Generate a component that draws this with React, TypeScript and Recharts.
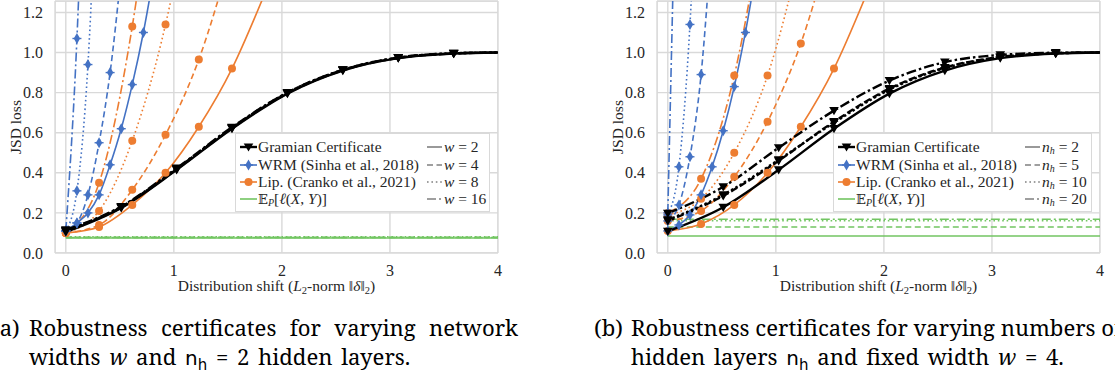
import React from 'react';
import { LineChart, Line, XAxis, YAxis, CartesianGrid, ReferenceArea, Label } from 'recharts';

// shift grid positions for each family of curves
const X_GRAM = [0, 0.513, 1.026, 1.538, 2.051, 2.564, 3.077, 3.59, 4];
const X_WRM = [0, 0.103, 0.205, 0.308, 0.41, 0.513, 0.615, 0.718, 0.821];
const X_LIP = [0, 0.308, 0.615, 0.923, 1.231, 1.538, 1.846];
const X_FLAT = [0, 4];

const X_TICKS = [0, 1, 2, 3, 4];
const Y_TICKS = [0, 0.2, 0.4, 0.6, 0.8, 1.0, 1.2];

// (a) varying width w, n_h = 2
const gramA_w2 = [0.105, 0.225, 0.415, 0.62, 0.795, 0.91, 0.972, 0.995, 1.0];
const gramA_w4 = [0.11, 0.228, 0.418, 0.623, 0.797, 0.912, 0.973, 0.995, 1.0];
const gramA_w8 = [0.112, 0.23, 0.42, 0.625, 0.8, 0.913, 0.974, 0.996, 1.0];
const gramA_w16 = [0.115, 0.232, 0.423, 0.627, 0.8, 0.914, 0.975, 0.996, 1.0];
const wrmA_w2 = [0.11, 0.15, 0.2, 0.29, 0.44, 0.62, 0.84, 1.1, 1.41];
const wrmA_w4 = [0.11, 0.15, 0.29, 0.55, 0.9, 1.4];
const wrmA_w8 = [0.11, 0.31, 0.94, 2.2];
const wrmA_w16 = [0.11, 1.07, 2.6];
const lipA_w2 = [0.1, 0.13, 0.24, 0.4, 0.63, 0.92, 1.3];
const lipA_w4 = [0.1, 0.14, 0.315, 0.59, 0.965, 1.5];
const lipA_w8 = [0.1, 0.21, 0.56, 1.14, 2.0];
const lipA_w16 = [0.1, 0.35, 1.13, 2.4];
const expA_w2 = [0.075, 0.075];
const expA_w4 = [0.078, 0.078];
const expA_w8 = [0.081, 0.081];
const expA_w16 = [0.077, 0.077];

// (b) varying depth n_h, w = 4
const gramB_n2 = [0.108, 0.228, 0.415, 0.62, 0.795, 0.91, 0.972, 0.995, 1.0];
const gramB_n5 = [0.16, 0.285, 0.46, 0.655, 0.82, 0.925, 0.978, 0.996, 1.0];
const gramB_n10 = [0.165, 0.29, 0.465, 0.65, 0.815, 0.922, 0.976, 0.996, 1.0];
const gramB_n20 = [0.198, 0.33, 0.525, 0.71, 0.86, 0.952, 0.988, 0.999, 1.0];
const wrmB_n2 = [0.11, 0.14, 0.19, 0.29, 0.43, 0.61, 0.83, 1.1, 1.42];
const wrmB_n5 = [0.16, 0.24, 0.48, 0.89, 1.6];
const wrmB_n10 = [0.19, 0.43, 1.14, 2.4];
const wrmB_n20 = [0.2, 2.6];
const lipB_n2 = [0.11, 0.145, 0.24, 0.4, 0.63, 0.92, 1.3];
const lipB_n5 = [0.16, 0.21, 0.38, 0.655, 1.045, 1.6];
const lipB_n10 = [0.19, 0.27, 0.5, 0.885, 1.5];
const lipB_n20 = [0.2, 0.37, 0.885, 1.8];
const expB_n2 = [0.085, 0.085];
const expB_n5 = [0.13, 0.13];
const expB_n10 = [0.161, 0.161];
const expB_n20 = [0.168, 0.168];

const PARAM_A = ['2', '4', '8', '16'];
const PARAM_B = ['2', '5', '10', '20'];

const BLACK = '#000000';
const BLUE = '#4472C4';
const ORANGE = '#ED7D31';
const GREEN = '#72C562';
const GRID = '#d9d9d9';
const TEXT = '#262626';
const SERIF = 'Liberation Serif';
const CAPTION_FONT = 'Noto Serif';

const Y_MAX = 1.257;
const X_MIN = -0.1;
const X_MAX = 4;

type Style = 'solid' | 'dashed' | 'dotted' | 'dashdot';
type Marker = 'tri' | 'diamond' | 'circle' | 'none';
const STYLES: Style[] = ['solid', 'dashed', 'dotted', 'dashdot'];

const thinDash: Record<Style, string | undefined> = {
  solid: undefined,
  dashed: '6 3.5',
  dotted: '1.6 2.8',
  dashdot: '9 3 2 3',
};
const thickDash: Record<Style, string | undefined> = {
  solid: undefined,
  dashed: '7 3',
  dotted: '2.5 2.5',
  dashdot: '10 3 2.5 3',
};

interface Series {
  key: string;
  xs: number[];
  ys: number[];
  color: string;
  style: Style;
  marker: Marker;
  width: number;
}

function family(prefix: string, xs: number[], sets: number[][], color: string, marker: Marker, width: number): Series[] {
  return sets.map((ys, i) => ({ key: `${prefix}${i}`, xs, ys, color, style: STYLES[i], marker, width }));
}

function buildRows(series: Series[]) {
  const map = new Map<number, Record<string, number>>();
  series.forEach((s) =>
    s.ys.forEach((y, i) => {
      const x = s.xs[i];
      if (!map.has(x)) map.set(x, { x });
      map.get(x)![s.key] = y;
    })
  );
  return Array.from(map.values()).sort((a, b) => a.x - b.x);
}

function drawMarker(kind: Marker, cx: number, cy: number, color: string, k: string) {
  if (kind === 'tri') {
    return <path key={k} d={`M${cx - 4.8},${cy - 3.6} L${cx + 4.8},${cy - 3.6} L${cx},${cy + 4.6} Z`} fill={color} />;
  }
  if (kind === 'diamond') {
    return (
      <g key={k}>
        <path d={`M${cx},${cy - 5.5} L${cx + 3.2},${cy} L${cx},${cy + 5.5} L${cx - 3.2},${cy} Z`} fill={color} />
        <line x1={cx - 4.5} y1={cy} x2={cx + 4.5} y2={cy} stroke={color} strokeWidth={1.4} />
      </g>
    );
  }
  if (kind === 'circle') {
    return <circle key={k} cx={cx} cy={cy} r={4} fill={color} />;
  }
  return <g key={k} />;
}

function makeDot(s: Series) {
  return (props: any) => {
    const { cx, cy, index, payload } = props;
    const k = `${s.key}-dot-${index}`;
    const v = payload ? payload[s.key] : undefined;
    if (s.marker === 'none' || v == null || cx == null || cy == null || v > Y_MAX || payload.x >= X_MAX) {
      return <g key={k} />;
    }
    return drawMarker(s.marker, cx, cy, s.color, k);
  };
}

function XTitle(props: any) {
  const vb = props.viewBox || { x: 0, y: 0, width: 0, height: 0 };
  const cx = vb.x + vb.width / 2;
  const y = vb.y + 38;
  return (
    <text x={cx} y={y} textAnchor="middle" fontFamily={SERIF} fontSize={15.5} fill={TEXT}>
      <tspan>Distribution shift (</tspan>
      <tspan fontStyle="italic">L</tspan>
      <tspan fontSize={10.5} dy={3}>2</tspan>
      <tspan dy={-3}>-norm  ‖</tspan>
      <tspan fontStyle="italic">δ</tspan>
      <tspan>‖</tspan>
      <tspan fontSize={10.5} dy={3}>2</tspan>
      <tspan dy={-3}>)</tspan>
    </text>
  );
}

function YTitle(props: any) {
  const vb = props.viewBox || { x: 0, y: 0, width: 0, height: 0 };
  const cy = vb.y + vb.height / 2;
  const x = vb.x + 15;
  return (
    <text
      x={x}
      y={cy}
      transform={`rotate(-90 ${x} ${cy})`}
      textAnchor="middle"
      dominantBaseline="central"
      fontFamily={SERIF}
      fontSize={15.5}
      fill={TEXT}
    >
      JSD loss
    </text>
  );
}

function LineSample({ color, dash, width, marker }: { color: string; dash?: string; width: number; marker: Marker }) {
  return (
    <svg width={17} height={12} style={{ display: 'block' }}>
      <line x1={0} y1={6} x2={17} y2={6} stroke={color} strokeWidth={width} strokeDasharray={dash} />
      {marker !== 'none' ? drawMarker(marker, 8.5, 6, color, 'm') : null}
    </svg>
  );
}

function ExpLabel() {
  return (
    <span>
      <span style={{ fontFamily: 'DejaVu Serif', fontSize: 13 }}>𝔼</span>
      <sub style={{ fontStyle: 'italic', fontSize: 10, verticalAlign: '-2px' }}>P</sub>
      [<span style={{ fontStyle: 'italic' }}>ℓ</span>(<i>X</i>, <i>Y</i>)]
    </span>
  );
}

interface LegendProps {
  left: number;
  width: number;
  col2: number;
  params: string[];
  paramName: 'w' | 'n';
}

function PanelLegend({ left, width, col2, params, paramName }: LegendProps) {
  const methods = [
    { label: <span>Gramian Certificate</span>, color: BLACK, marker: 'tri' as Marker, w: 2.4 },
    { label: <span>WRM (Sinha et al., 2018)</span>, color: BLUE, marker: 'diamond' as Marker, w: 1.6 },
    { label: <span>Lip. (Cranko et al., 2021)</span>, color: ORANGE, marker: 'circle' as Marker, w: 1.6 },
    { label: <ExpLabel />, color: GREEN, marker: 'none' as Marker, w: 1.6 },
  ];
  const rowTop = 4.5;
  const rowH = 17.4;
  return (
    <div
      style={{
        position: 'absolute',
        left,
        top: 133,
        width,
        height: 79,
        background: '#ffffff',
        border: '1px solid #d9d9d9',
        boxSizing: 'border-box',
        fontFamily: SERIF,
        fontSize: 15.5,
        color: TEXT,
      }}
    >
      {methods.map((m, i) => (
        <div key={`m${i}`} style={{ position: 'absolute', left: 4, top: rowTop + i * rowH, height: rowH, display: 'flex', alignItems: 'center', whiteSpace: 'nowrap' }}>
          <LineSample color={m.color} width={m.w} marker={m.marker} />
          <span style={{ marginLeft: 1 }}>{m.label}</span>
        </div>
      ))}
      {params.map((p, i) => (
        <div key={`p${i}`} style={{ position: 'absolute', left: col2, top: rowTop + i * rowH, height: rowH, display: 'flex', alignItems: 'center', whiteSpace: 'nowrap' }}>
          <svg width={15} height={12} style={{ display: 'block' }}>
            <line x1={0} y1={6} x2={15} y2={6} stroke="#808080" strokeWidth={1.6} strokeDasharray={thinDash[STYLES[i]]} />
          </svg>
          <span style={{ marginLeft: 2 }}>
            {paramName === 'w' ? (
              <i>w</i>
            ) : (
              <span>
                <i>n</i>
                <sub style={{ fontStyle: 'italic', fontSize: 10, verticalAlign: '-2px' }}>h</sub>
              </span>
            )}
            {' = '}
            {p}
          </span>
        </div>
      ))}
    </div>
  );
}

function NH() {
  return (
    <span style={{ fontFamily: 'DejaVu Sans', fontSize: 20 }}>
      n<sub style={{ fontSize: 15, verticalAlign: '-5px' }}>h</sub>
    </span>
  );
}

interface PanelProps {
  offset: number;
  series: Series[];
  legend: LegendProps;
  tag: string;
  line1: string;
  justify: boolean;
  line2: React.ReactNode;
}

function Panel({ offset, series, legend, tag, line1, justify, line2 }: PanelProps) {
  const rows = buildRows(series);
  return (
    <div style={{ position: 'absolute', left: offset, top: 0, width: 560, height: 378 }}>
      <LineChart width={520} height={300} data={rows} margin={{ top: 1, right: 22, bottom: 17, left: 0 }}>
        <ReferenceArea x1={X_MIN} x2={X_MAX} y1={0} y2={Y_MAX} fill="#ffffff" fillOpacity={0} stroke={GRID} strokeWidth={1.5} ifOverflow="hidden" />
        <CartesianGrid stroke={GRID} strokeWidth={1.4} />
        <XAxis
          dataKey="x"
          type="number"
          domain={[X_MIN, X_MAX]}
          ticks={X_TICKS}
          allowDataOverflow
          axisLine={false}
          tickLine={false}
          tickMargin={6}
          height={30}
          tick={{ fontFamily: SERIF, fontSize: 16, fill: TEXT }}
        >
          <Label content={<XTitle />} />
        </XAxis>
        <YAxis
          type="number"
          domain={[0, Y_MAX]}
          ticks={Y_TICKS}
          allowDataOverflow
          axisLine={false}
          tickLine={false}
          tickMargin={6}
          width={55}
          tickFormatter={(v: number) => v.toFixed(1)}
          tick={{ fontFamily: SERIF, fontSize: 16, fill: TEXT }}
        >
          <Label content={<YTitle />} />
        </YAxis>
        {series.map((s) => (
          <Line
            key={s.key}
            dataKey={s.key}
            type="monotone"
            stroke={s.color}
            strokeWidth={s.width}
            strokeDasharray={s.width > 2 ? thickDash[s.style] : thinDash[s.style]}
            dot={makeDot(s)}
            activeDot={false}
            connectNulls
            isAnimationActive={false}
          />
        ))}
      </LineChart>
      <PanelLegend {...legend} />
      <div style={{ position: 'absolute', left: -8, top: 312.5, width: 526, fontFamily: CAPTION_FONT, fontSize: 22.1, lineHeight: '29px', color: '#000' }}>
        <div style={{ display: 'flex', whiteSpace: 'nowrap' }}>
          <span style={{ width: 37, flex: 'none' }}>{tag}</span>
          {justify ? (
            <span style={{ flex: 1, textAlign: 'justify', textAlignLast: 'justify', whiteSpace: 'normal' }}>{line1}</span>
          ) : (
            <span style={{ flex: 'none', whiteSpace: 'nowrap' }}>{line1}</span>
          )}
        </div>
        <div style={{ paddingLeft: 37, whiteSpace: 'nowrap', wordSpacing: 3 }}>{line2}</div>
      </div>
    </div>
  );
}

const seriesA: Series[] = [
  ...family('expA', X_FLAT, [expA_w2, expA_w4, expA_w8, expA_w16], GREEN, 'none', 1.6),
  ...family('lipA', X_LIP, [lipA_w2, lipA_w4, lipA_w8, lipA_w16], ORANGE, 'circle', 1.6),
  ...family('wrmA', X_WRM, [wrmA_w2, wrmA_w4, wrmA_w8, wrmA_w16], BLUE, 'diamond', 1.6),
  ...family('gramA', X_GRAM, [gramA_w2, gramA_w4, gramA_w8, gramA_w16], BLACK, 'tri', 2.4),
];

const seriesB: Series[] = [
  ...family('expB', X_FLAT, [expB_n2, expB_n5, expB_n10, expB_n20], GREEN, 'none', 1.6),
  ...family('lipB', X_LIP, [lipB_n2, lipB_n5, lipB_n10, lipB_n20], ORANGE, 'circle', 1.6),
  ...family('wrmB', X_WRM, [wrmB_n2, wrmB_n5, wrmB_n10, wrmB_n20], BLUE, 'diamond', 1.6),
  ...family('gramB', X_GRAM, [gramB_n2, gramB_n5, gramB_n10, gramB_n20], BLACK, 'tri', 2.4),
];

export default function App() {
  return (
    <div style={{ position: 'absolute', left: 0, top: 0, width: 1115, height: 378, overflow: 'hidden', background: '#ffffff' }}>
      <Panel
        offset={0}
        series={seriesA}
        legend={{ left: 235, width: 255, col2: 191, params: PARAM_A, paramName: 'w' }}
        tag="(a)"
        line1="Robustness certificates for varying network"
        justify
        line2={
          <span>
            widths <i>w</i> and <NH /> = 2 hidden layers.
          </span>
        }
      />
      <Panel
        offset={602}
        series={seriesB}
        legend={{ left: 231, width: 259, col2: 191, params: PARAM_B, paramName: 'n' }}
        tag="(b)"
        line1="Robustness certificates for varying numbers of"
        justify={false}
        line2={
          <span>
            hidden layers <NH /> and fixed width <i>w</i> = 4.
          </span>
        }
      />
    </div>
  );
}
